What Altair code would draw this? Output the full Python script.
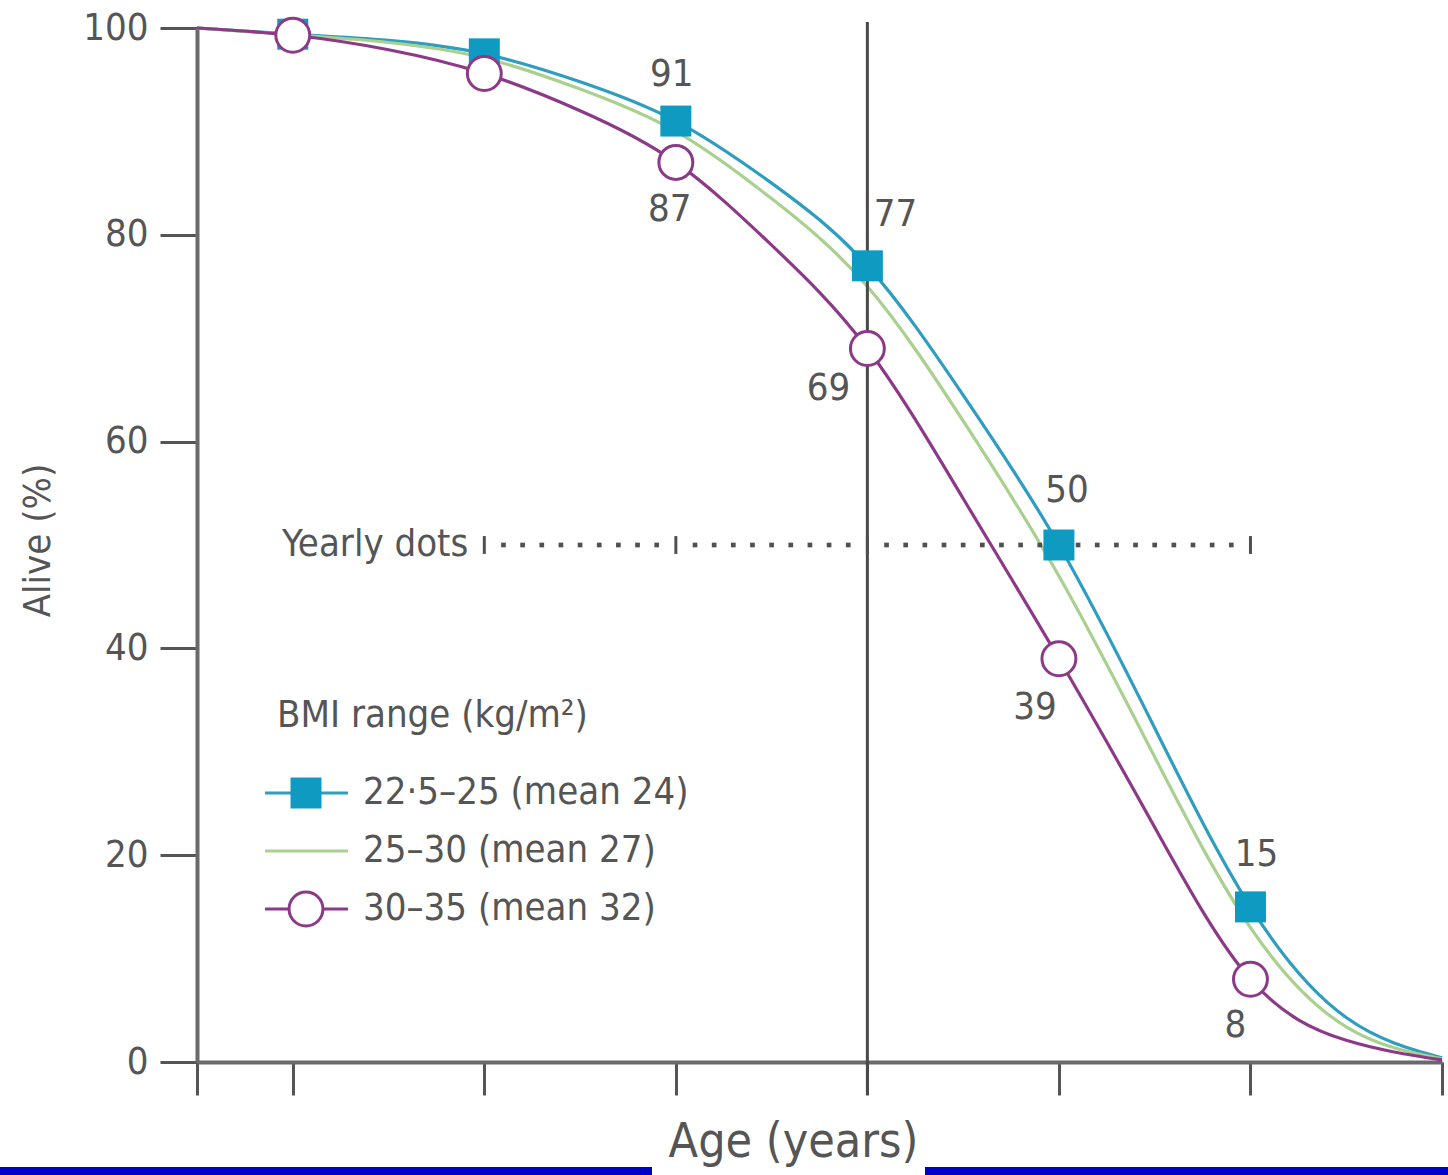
import altair as alt
import pandas as pd

# Survival curves: percentage still alive by age for three BMI bands
ages = [30, 35, 40, 45, 50, 55, 60, 65, 70, 75, 80, 85, 90, 95]
alive_bmi_24 = [100, 99.4, 98.8, 97.5, 94.8, 91, 85, 77, 64.5, 50, 32.3, 15, 4.3, 0.4]
alive_bmi_27 = [100, 99.35, 98.6, 97.1, 94.1, 90, 83.5, 75, 62, 47, 29.5, 13, 3.4, 0.3]
alive_bmi_32 = [100, 99.3, 97.9, 95.6, 92.0, 87, 79, 69, 54.5, 39, 22.7, 8, 2.1, 0.2]

series_names = ["22·5–25 (mean 24)", "25–30 (mean 27)", "30–35 (mean 32)"]
legend_title = "BMI range (kg/m²)"

marker_ages = [35, 45, 55, 65, 75, 85]
labelled_ages = [55, 65, 75, 85]

x_ticks = [30, 35, 45, 55, 65, 75, 85, 95]
y_ticks = [0, 20, 40, 60, 80, 100]

# Yearly reference dots along the 50% line, with a bar every ten years
dot_years = [a for a in range(46, 85) if a % 10 != 5]
bar_years = [45, 55, 65, 75, 85]
dots_level = 50
reference_age = 65

# ---- styling ----
TEAL_LINE = "#2e9dbf"
TEAL_FILL = "#0f9ac2"
GREEN = "#a9d08f"
PURPLE = "#8c3a88"
INK = "#555555"
AXIS = "#6a6a6a"
FONT = "DejaVu Sans Condensed, Liberation Sans"
FS = 38

W, H = 1245, 1034
PAD = {"left": 197, "top": 28, "right": 6, "bottom": 113}

# label offsets (dx, dy) in pixels for each labelled marker
label_offsets = {
    ("a", 55): (-4, -46), ("c", 55): (-6, 48),
    ("a", 65): (28, -51), ("c", 65): (-39, 40),
    ("a", 75): (8, -54), ("c", 75): (-24, 49),
    ("a", 85): (6, -52), ("c", 85): (-15, 47),
}

curves = pd.DataFrame({
    "age": ages * 3,
    "alive": alive_bmi_24 + alive_bmi_27 + alive_bmi_32,
    "group": ["a"] * len(ages) + ["b"] * len(ages) + ["c"] * len(ages),
})

sq_vals = [alive_bmi_24[ages.index(a)] for a in marker_ages]
ci_vals = [alive_bmi_32[ages.index(a)] for a in marker_ages]
markers = pd.DataFrame({
    "age": marker_ages * 2,
    "alive": sq_vals + ci_vals,
    "group": ["a"] * len(marker_ages) + ["c"] * len(marker_ages),
})

dots = pd.DataFrame({"age": dot_years, "alive": [dots_level] * len(dot_years)})
bars = pd.DataFrame({"age": bar_years, "alive": [dots_level] * len(bar_years)})
dots_anchor = pd.DataFrame({"age": [bar_years[0]], "alive": [dots_level]})
ref_line = pd.DataFrame({"age": [reference_age]})
one = pd.DataFrame({"k": [0]})

x_scale = alt.Scale(domain=[30, 95], nice=False, zero=False)
y_scale = alt.Scale(domain=[0, 100], nice=False)

X = alt.X(
    "age:Q", scale=x_scale,
    axis=alt.Axis(
        values=x_ticks, labels=False, grid=False, tickSize=33, tickWidth=3,
        tickColor=INK, domainColor=AXIS, domainWidth=4,
        title="Age (years)", titleFont=FONT, titleFontSize=48,
        titleFontWeight="normal", titleColor=INK, titleX=596, titleY=80,
        titleBaseline="middle",
    ),
)
Y = alt.Y(
    "alive:Q", scale=y_scale,
    axis=alt.Axis(
        values=y_ticks, grid=False, tickSize=37, tickWidth=3, tickColor=INK,
        domainColor=AXIS, domainWidth=4, labelFont=FONT, labelFontSize=FS,
        labelColor=INK, labelPadding=12,
        title="Alive (%)", titleFont=FONT, titleFontSize=FS,
        titleFontWeight="normal", titleColor=INK, titleX=-159, titleY=512,
        titleBaseline="middle", titleAngle=270,
    ),
)

# frame strips at the bottom edge
strips = [
    alt.Chart(one).mark_rect(color="#0000c8").encode(
        x=alt.value(-197), x2=alt.value(455), y=alt.value(1139), y2=alt.value(1147)),
    alt.Chart(one).mark_rect(color="#0000c8").encode(
        x=alt.value(728), x2=alt.value(1251), y=alt.value(1139), y2=alt.value(1147)),
]

age_rule = alt.Chart(ref_line).mark_rule(color="#4a4a4a", strokeWidth=3).encode(
    x=X, y=alt.value(-6), y2=alt.value(1067))

dot_layer = alt.Chart(dots).mark_square(size=22, color="#505050", opacity=1).encode(x=X, y=Y)
bar_layer = alt.Chart(bars).mark_point(
    shape="M0,-1L0,1", size=320, stroke="#505050", strokeWidth=3, opacity=1
).encode(x=X, y=Y)
dots_text = alt.Chart(dots_anchor).mark_text(
    text="Yearly dots", align="right", baseline="middle", dx=-16, font=FONT,
    fontSize=FS, color=INK,
).encode(x=X, y=Y)

line_styles = {"a": TEAL_LINE, "b": GREEN, "c": PURPLE}
lines = [
    alt.Chart(curves).transform_filter(alt.datum.group == g).mark_line(
        color=c, strokeWidth=3.2, interpolate="natural"
    ).encode(x=X, y=Y)
    for g, c in line_styles.items()
]

squares = alt.Chart(markers).transform_filter(alt.datum.group == "a").mark_square(
    size=960, color=TEAL_FILL, opacity=1).encode(x=X, y=Y)
circles = alt.Chart(markers).transform_filter(alt.datum.group == "c").mark_point(
    shape="circle", size=1150, filled=True, fill="white", stroke=PURPLE,
    strokeWidth=3, opacity=1).encode(x=X, y=Y)

value_labels = []
for g in ["a", "c"]:
    for a in labelled_ages:
        dx, dy = label_offsets[(g, a)]
        value_labels.append(
            alt.Chart(markers)
            .transform_filter((alt.datum.group == g) & (alt.datum.age == a))
            .mark_text(dx=dx, dy=dy, align="center", baseline="middle",
                       font=FONT, fontSize=FS, color=INK)
            .encode(x=X, y=Y, text=alt.Text("alive:Q", format=".0f"))
        )

# hand-built key
key = [
    alt.Chart(one).mark_text(text=legend_title, align="left", baseline="middle",
                             font=FONT, fontSize=FS, color=INK).encode(
        x=alt.value(80), y=alt.value(688)),
]
key_rows = [765, 823, 881]
key_colors = [TEAL_LINE, GREEN, PURPLE]
for name, yy, col in zip(series_names, key_rows, key_colors):
    key.append(alt.Chart(one).mark_rule(color=col, strokeWidth=3).encode(
        x=alt.value(68), x2=alt.value(151), y=alt.value(yy)))
    key.append(alt.Chart(one).mark_text(text=name, align="left", baseline="middle",
                                        font=FONT, fontSize=FS, color=INK).encode(
        x=alt.value(166), y=alt.value(yy)))
key.append(alt.Chart(one).mark_square(size=960, color=TEAL_FILL, opacity=1).encode(
    x=alt.value(109), y=alt.value(key_rows[0])))
key.append(alt.Chart(one).mark_point(shape="circle", size=1150, filled=True, fill="white",
                                     stroke=PURPLE, strokeWidth=3, opacity=1).encode(
    x=alt.value(109), y=alt.value(key_rows[2])))

chart = alt.layer(
    *lines, *strips, age_rule, dot_layer, bar_layer, dots_text, squares, circles,
    *value_labels, *key,
).properties(
    width=W, height=H, padding=PAD,
    autosize=alt.AutoSizeParams(type="none"), background="white",
).configure_view(stroke=None)

chart.save("out.html", embed_options={"renderer": "svg", "actions": False})
